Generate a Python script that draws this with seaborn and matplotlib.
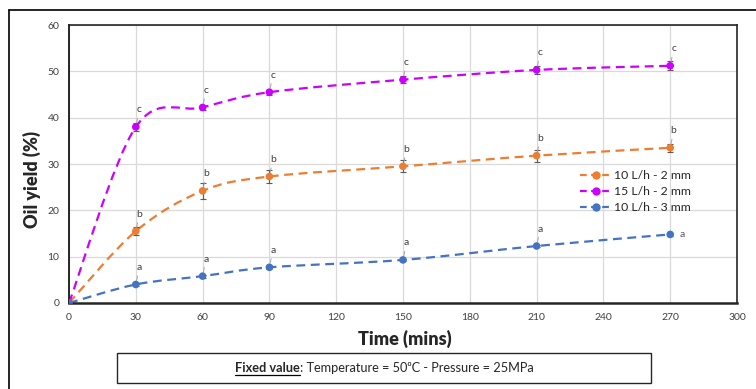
import numpy as np
import pandas as pd
import matplotlib
matplotlib.use("Agg")
import matplotlib.pyplot as plt
import seaborn as sns
from matplotlib.path import Path
from matplotlib.patches import PathPatch, Rectangle
from matplotlib.lines import Line2D

# data
time = [0, 30, 60, 90, 150, 210, 270]
y_10_2 = [0, 15.5, 24.2, 27.3, 29.5, 31.8, 33.5]
y_15_2 = [0, 38.0, 42.2, 45.5, 48.2, 50.3, 51.2]
y_10_3 = [0, 4.0, 5.8, 7.7, 9.3, 12.3, 14.8]
err_10_2 = [0, 0.8, 1.7, 1.5, 1.3, 1.3, 0.9]
err_15_2 = [0, 0.9, 0.6, 0.5, 0.8, 0.9, 1.0]
err_10_3 = [0, 0.3, 0.3, 0.4, 0.3, 0.3, 0.3]
letters_10_2 = ["", "b", "b", "b", "b", "b", "b"]
letters_15_2 = ["", "c", "c", "c", "c", "c", "c"]
letters_10_3 = ["", "a", "a", "a", "a", "a", "a"]
labels = ["10 L/h - 2 mm", "15 L/h - 2 mm", "10 L/h - 3 mm"]
colors = ["#ED7D31", "#CC00FF", "#4472C4"]

sns.set_style("white")
plt.rcParams['font.family'] = ['Lato', 'DejaVu Sans']

df = pd.DataFrame({
    "time": time * 3,
    "yield": y_10_2 + y_15_2 + y_10_3,
    "series": [labels[0]] * 7 + [labels[1]] * 7 + [labels[2]] * 7,
})

fig = plt.figure(figsize=(7.56, 3.89), dpi=100)
ax = fig.add_axes([69 / 756, 86 / 389, 668 / 756, 278 / 389])


def smooth_path(xs, ys):
    # Excel-style smoothed line as bezier segments
    pts = np.column_stack([xs, ys]).astype(float)
    n = len(pts)
    verts = [pts[0]]
    codes = [Path.MOVETO]
    for i in range(n - 1):
        p0 = pts[i - 1] if i > 0 else pts[i]
        p1 = pts[i]
        p2 = pts[i + 1]
        p3 = pts[i + 2] if i + 2 < n else pts[i + 1]
        c1 = p1 + (p2 - p0) / 6
        c2 = p2 - (p3 - p1) / 6
        verts += [c1, c2, p2]
        codes += [Path.CURVE4] * 3
    return Path(verts, codes)


series_y = [y_10_2, y_15_2, y_10_3]
series_err = [err_10_2, err_15_2, err_10_3]
series_let = [letters_10_2, letters_15_2, letters_10_3]

for ys, c in zip(series_y, colors):
    ax.add_patch(PathPatch(smooth_path(time, ys), fill=False, edgecolor=c,
                           lw=1.6, linestyle=(0, (4, 2.5)), zorder=2))

for ys, es in zip(series_y, series_err):
    ax.errorbar(time, ys, yerr=es, fmt="none", ecolor="#595959",
                elinewidth=0.8, capsize=2.5, capthick=0.8, zorder=3)

sns.scatterplot(data=df, x="time", y="yield", hue="series", palette=colors,
                s=30, edgecolor="none", legend=False, zorder=4, ax=ax)

for ys, es, lets in zip(series_y, series_err, series_let):
    for i, (t, v, e, l) in enumerate(zip(time, ys, es, lets)):
        if not l:
            continue
        if lets is letters_10_3 and t == 270:
            ax.annotate(l, (t, v), xytext=(7, 0), textcoords="offset points",
                        fontsize=7.5, color="#595959", va="center", ha="left")
            continue
        ax.annotate(l, (t, v), xytext=(2.5, 9), textcoords="offset points",
                    fontsize=7.5, color="#404040", ha="center", va="bottom",
                    arrowprops=dict(arrowstyle="-", color="#A6A6A6", lw=0.7,
                                    shrinkA=0.5, shrinkB=3))

ax.set_xlim(0, 300)
ax.set_ylim(0, 60)
ax.set_xticks(range(0, 301, 30))
ax.set_yticks(range(0, 61, 10))
ax.grid(True, color="#D9D9D9", lw=0.9)
ax.set_axisbelow(True)
ax.tick_params(labelsize=7.5, length=0, pad=7, colors="#404040")
for s in ax.spines.values():
    s.set_color("#262626")
    s.set_linewidth(1.2)
ax.spines["bottom"].set_linewidth(1.8)
ax.spines["left"].set_linewidth(1.4)
ax.set_xlabel("Time (mins)", fontsize=13, fontweight="heavy", va="center")
ax.set_ylabel("Oil yield (%)", fontsize=13, fontweight="heavy", va="center")
ax.xaxis.set_label_coords((405 - 69) / 668, (303 - 339) / 278)
ax.yaxis.set_label_coords((32 - 69) / 668, (303 - 180) / 278)

handles = [Line2D([0], [0], color=c, lw=1.6, linestyle=(0, (3, 2)),
                  marker="o", markersize=5) for c in colors]
ax.legend(handles, labels, loc="upper left", bbox_to_anchor=(0.765, 0.478),
          frameon=False, fontsize=8.8, handlelength=2.6, handletextpad=0.15,
          labelspacing=0.42, borderaxespad=0, borderpad=0)

# outer frame and fixed value box
fig.add_artist(Line2D([9 / 756, 9 / 756], [0, 1 - 10 / 389], color="black",
                      lw=1.2, transform=fig.transFigure))
fig.add_artist(Line2D([9 / 756, 1], [1 - 10 / 389, 1 - 10 / 389], color="black",
                      lw=1.2, transform=fig.transFigure))
fig.add_artist(Rectangle((117 / 756, 6 / 389), 534 / 756, 30 / 389, fill=False,
                         edgecolor="#262626", lw=1.0, transform=fig.transFigure))
ty = 21 / 389
t1 = fig.text(0, ty, "Fixed value", fontsize=9.2, fontweight="bold",
              va="center", ha="left")
t2 = fig.text(0, ty, ": Temperature = 50\u2070C - Pressure = 25MPa",
              fontsize=9.2, va="center", ha="left")
fig.canvas.draw()
inv = fig.transFigure.inverted()
w1 = t1.get_window_extent().transformed(inv).width
w2 = t2.get_window_extent().transformed(inv).width
x0 = 384 / 756 - (w1 + w2) / 2
t1.set_x(x0)
t2.set_x(x0 + w1)
fig.canvas.draw()
bb = t1.get_window_extent().transformed(inv)
fig.add_artist(Line2D([bb.x0, bb.x1], [bb.y0 - 0.5 / 389, bb.y0 - 0.5 / 389],
                      color="black", lw=0.9, transform=fig.transFigure))

fig.savefig("out.png", dpi=100)
